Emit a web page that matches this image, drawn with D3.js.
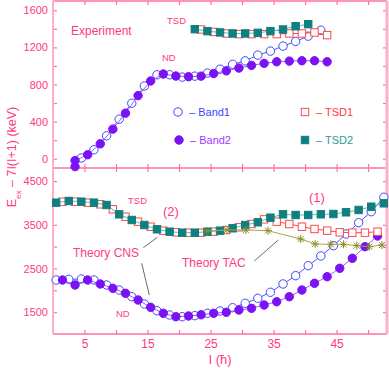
<!DOCTYPE html>
<html>
<head>
<meta charset="utf-8">
<script src="https://cdn.jsdelivr.net/npm/d3@7"></script>
<style>
  body { margin: 0; background: #fff; }
  text { font-family: 'Liberation Sans', Arial, sans-serif; }
</style>
</head>
<body>
<script>
// experiment (top panel)
var band1TopI = [4.5, 6.5, 8.5, 10.5, 12.5, 14.5, 16.5, 18.5, 20.5, 22.5, 24.5, 26.5, 28.5, 30.5, 32.5, 34.5, 36.5, 38.5, 40.5, 42.5]
var band1TopE = [8, 97, 247, 426, 598, 784, 905, 905, 880, 890, 923, 965, 1018, 1055, 1117, 1160, 1214, 1264, 1321, 1385]
var band2TopI = [3.5, 3.5, 5.5, 7.5, 9.5, 11.5, 13.5, 15.5, 17.5, 19.5, 21.5, 23.5, 25.5, 27.5, 29.5, 31.5, 33.5, 35.5, 37.5, 39.5, 41.5, 43.5]
var band2TopE = [-85, -20, 43, 161, 319, 491, 680, 838, 913, 891, 884, 890, 918, 947, 977, 1006, 1028, 1045, 1052, 1056, 1056, 1045]
var tsd1TopI = [23.5, 25.5, 27.5, 29.5, 31.5, 33.5, 35.5, 37.5, 39.5, 41.5, 43.5]
var tsd1TopE = [1393, 1367, 1350, 1343, 1343, 1343, 1343, 1350, 1350, 1361, 1332]
var tsd2TopI = [22.5, 24.5, 26.5, 28.5, 30.5, 32.5, 34.5, 36.5, 38.5, 40.5]
var tsd2TopE = [1396, 1375, 1361, 1350, 1350, 1357, 1375, 1393, 1428, 1450]

// theory (bottom panel)
var band1BotI = [0.5, 2.5, 4.5, 6.5, 8.5, 10.5, 12.5, 14.5, 16.5, 18.5, 20.5, 22.5, 24.5, 26.5, 28.5, 30.5, 32.5, 34.5, 36.5, 38.5, 40.5, 42.5, 44.5, 46.5, 48.5, 50.5, 52.5]
var band1BotE = [2236, 2252, 2259, 2236, 2122, 2007, 1854, 1687, 1533, 1435, 1396, 1420, 1474, 1527, 1602, 1703, 1817, 1955, 2145, 2335, 2564, 2786, 3022, 3289, 3548, 3800, 4130]
var band2BotI = [1.5, 3.5, 5.5, 7.5, 9.5, 11.5, 13.5, 15.5, 17.5, 19.5, 21.5, 23.5, 25.5, 27.5, 29.5, 31.5, 33.5, 35.5, 37.5, 39.5, 41.5, 43.5, 45.5, 47.5, 49.5, 51.5]
var band2BotE = [2236, 2122, 2236, 2145, 2046, 1932, 1778, 1611, 1474, 1396, 1412, 1440, 1474, 1497, 1549, 1588, 1664, 1739, 1854, 2007, 2161, 2312, 2504, 2733, 2999, 3244]
var tsd1BotI = [1.5, 3.5, 5.5, 7.5, 9.5, 11.5, 13.5, 15.5, 17.5, 19.5, 21.5, 23.5, 25.5, 27.5, 29.5, 31.5, 33.5, 35.5, 37.5, 39.5, 41.5, 43.5, 45.5, 47.5, 49.5, 51.5]
var tsd1BotE = [4029, 4029, 4006, 3969, 3855, 3685, 3571, 3456, 3365, 3328, 3319, 3319, 3342, 3381, 3443, 3518, 3625, 3571, 3518, 3456, 3404, 3365, 3328, 3319, 3319, 3342]
var tsd2BotI = [0.5, 2.5, 4.5, 6.5, 8.5, 10.5, 12.5, 14.5, 16.5, 18.5, 20.5, 22.5, 24.5, 26.5, 28.5, 30.5, 32.5, 34.5, 36.5, 38.5, 40.5, 42.5, 44.5, 46.5, 48.5, 50.5, 52.5]
var tsd2BotE = [4006, 4045, 4029, 4006, 3953, 3740, 3610, 3495, 3397, 3342, 3319, 3319, 3342, 3365, 3420, 3495, 3557, 3663, 3740, 3724, 3724, 3740, 3747, 3786, 3839, 3914, 3992]
var tacI = [24.4, 27.6, 30.6, 34.1, 39.3, 41.6, 44.1, 46.1, 48.2, 50.2, 52.2]
var tacE = [3358, 3381, 3381, 3365, 3175, 3060, 3053, 3053, 3022, 2999, 3037]

var topTicks = [0, 200, 400, 600, 800, 1000, 1200, 1400, 1600]
var topLabels = [0, 400, 800, 1200, 1600]
var botTicks = [1500, 2000, 2500, 3000, 3500, 4000, 4500]
var botLabels = [1500, 2500, 3500, 4500]
var xTicks = [5, 10, 15, 20, 25, 30, 35, 40, 45, 50]
var xLabels = [5, 15, 25, 35, 45]

var width = 389,
  height = 368,
  x0 = 53, x1 = 387,
  yT = 1, yM = 168, yB = 334

var pink = '#ff3b7a'
var axisPink = '#ff73a2'

var svg = d3.select('body').append('svg')
  .attr('width', width)
  .attr('height', height)
  .style('background', '#fff')

var x = d3.scaleLinear().domain([0, 53]).range([x0, x1])
var yTop = d3.scaleLinear().domain([-100, 1700]).range([yM, yT])
var yBot = d3.scaleLinear().domain([1000, 4800]).range([yB, yM])

function zip(a, b) { return a.map(function (v, i) { return [v, b[i]] }) }

function styleAxis(g) {
  g.select('.domain').remove()
  g.selectAll('line').attr('stroke', axisPink).attr('stroke-width', 1.2)
  g.selectAll('text').attr('fill', pink).style('font-size', '11px')
}

function fmt(labels) {
  return function (d) { return labels.indexOf(d) >= 0 ? d : '' }
}

// y axes
svg.append('g').attr('transform', 'translate(' + x0 + ',0)')
  .call(d3.axisLeft(yTop).tickValues(topTicks).tickSize(-4).tickPadding(5).tickFormat(fmt(topLabels)))
  .call(styleAxis)
svg.append('g').attr('transform', 'translate(' + x0 + ',0)')
  .call(d3.axisLeft(yBot).tickValues(botTicks).tickSize(-4).tickPadding(5).tickFormat(fmt(botLabels)))
  .call(styleAxis)
svg.append('g').attr('transform', 'translate(' + x1 + ',0)')
  .call(d3.axisRight(yTop).tickValues(topTicks).tickSize(-4).tickFormat(''))
  .call(styleAxis)
svg.append('g').attr('transform', 'translate(' + x1 + ',0)')
  .call(d3.axisRight(yBot).tickValues(botTicks).tickSize(-4).tickFormat(''))
  .call(styleAxis)

// x axes
svg.append('g').attr('transform', 'translate(0,' + yB + ')')
  .call(d3.axisBottom(x).tickValues(xTicks).tickSize(-4).tickPadding(5).tickFormat(fmt(xLabels)))
  .call(styleAxis)
svg.selectAll('g').filter(function () { return this.getAttribute('transform') === 'translate(0,' + yB + ')' })
  .selectAll('text').style('font-size', '12px')
svg.append('g').attr('transform', 'translate(0,' + yM + ')')
  .call(d3.axisBottom(x).tickValues(xTicks).tickSize(4).tickFormat(''))
  .call(styleAxis)
svg.append('g').attr('transform', 'translate(0,' + yM + ')')
  .call(d3.axisTop(x).tickValues(xTicks).tickSize(4).tickFormat(''))
  .call(styleAxis)
svg.append('g').attr('transform', 'translate(0,' + yT + ')')
  .call(d3.axisTop(x).tickValues(xTicks).tickSize(-4).tickFormat(''))
  .call(styleAxis)

// frame
;[yT, yM, yB].forEach(function (yy) {
  svg.append('line').attr('x1', x0).attr('x2', x1).attr('y1', yy).attr('y2', yy)
    .attr('stroke', axisPink).attr('stroke-width', 1.5)
})
svg.append('line').attr('x1', x0).attr('x2', x0).attr('y1', yT).attr('y2', yB)
  .attr('stroke', '#ffadc8').attr('stroke-width', 2)
svg.append('line').attr('x1', x1).attr('x2', x1).attr('y1', yT).attr('y2', yB)
  .attr('stroke', '#ffadc8').attr('stroke-width', 3)

// series
function drawSeries(ys, pts, o) {
  var line = d3.line().x(function (d) { return x(d[0]) }).y(function (d) { return ys(d[1]) })
  svg.append('path').datum(pts)
    .attr('d', line)
    .attr('fill', 'none')
    .attr('stroke', o.line)
    .attr('stroke-width', 1)
  var g = svg.append('g')
  if (o.shape === 'circle') {
    g.selectAll('circle').data(pts).enter().append('circle')
      .attr('cx', function (d) { return x(d[0]) })
      .attr('cy', function (d) { return ys(d[1]) })
      .attr('r', 4.2)
      .attr('fill', o.fill)
      .attr('stroke', o.stroke)
      .attr('stroke-width', 1)
  } else if (o.shape === 'square') {
    g.selectAll('rect').data(pts).enter().append('rect')
      .attr('x', function (d) { return x(d[0]) - 3.7 })
      .attr('y', function (d) { return ys(d[1]) - 3.7 })
      .attr('width', 7.4)
      .attr('height', 7.4)
      .attr('fill', o.fill)
      .attr('stroke', o.stroke)
      .attr('stroke-width', 1)
  } else {
    g.selectAll('path').data(pts).enter().append('path')
      .attr('transform', function (d) { return 'translate(' + x(d[0]) + ',' + ys(d[1]) + ')' })
      .attr('d', 'M-4,0H4M0,-4V4M-3,-3L3,3M-3,3L3,-3')
      .attr('stroke', o.stroke)
      .attr('stroke-width', 1)
  }
}

var sBand1 = { shape: 'circle', fill: '#fff', stroke: '#3d46ff', line: '#4a55ff' }
var sBand2 = { shape: 'circle', fill: '#7a12f5', stroke: '#7a12f5', line: '#9a5cff' }
var sTsd1 = { shape: 'square', fill: '#fff', stroke: '#ff4848', line: '#ff4848' }
var sTsd2 = { shape: 'square', fill: '#0f7f7f', stroke: '#0f7f7f', line: '#5bbcbc' }
var sTac = { shape: 'star', stroke: '#8d8d2a', line: '#a8a844' }

drawSeries(yTop, zip(band1TopI, band1TopE), sBand1)
drawSeries(yTop, zip(band2TopI, band2TopE), sBand2)
drawSeries(yTop, zip(tsd1TopI, tsd1TopE), sTsd1)
drawSeries(yTop, zip(tsd2TopI, tsd2TopE), sTsd2)

drawSeries(yBot, zip(band1BotI, band1BotE), sBand1)
drawSeries(yBot, zip(band2BotI, band2BotE), sBand2)
drawSeries(yBot, zip(tsd1BotI, tsd1BotE), sTsd1)
drawSeries(yBot, zip(tsd2BotI, tsd2BotE), sTsd2)
drawSeries(yBot, zip(tacI, tacE), sTac)

// legend
var legend = [
  { name: 'Band1', s: sBand1, col: '#3d46ff', lx: 178, ly: 112 },
  { name: 'Band2', s: sBand2, col: '#9a3cff', lx: 179, ly: 140 },
  { name: 'TSD1', s: sTsd1, col: '#ff3a3a', lx: 305, ly: 112 },
  { name: 'TSD2', s: sTsd2, col: '#2f9a9a', lx: 305, ly: 140 }
]
legend.forEach(function (l) {
  if (l.s.shape === 'circle') {
    svg.append('circle').attr('cx', l.lx).attr('cy', l.ly).attr('r', 4.2)
      .attr('fill', l.s.fill).attr('stroke', l.s.stroke)
  } else {
    svg.append('rect').attr('x', l.lx - 3.7).attr('y', l.ly - 3.7).attr('width', 7.4).attr('height', 7.4)
      .attr('fill', l.s.fill).attr('stroke', l.s.stroke)
  }
  svg.append('text').attr('x', l.lx + 11).attr('y', l.ly + 4)
    .attr('fill', l.col).style('font-size', '11px')
    .text('\u2013 ' + l.name)
})

// annotations
function label(t, lx, ly, size) {
  svg.append('text').attr('x', lx).attr('y', ly).attr('fill', pink)
    .style('font-size', size + 'px').text(t)
}
label('Experiment', 71, 35, 12)
label('TSD', 167, 24, 9.5)
label('ND', 162, 61, 9.5)
label('TSD', 128, 204, 9.5)
label('(2)', 163, 216, 13)
label('(1)', 309, 202, 13)
label('ND', 116, 317, 9.5)
label('Theory CNS', 73, 257, 12)
label('Theory TAC', 182, 267, 12)

;[[143.3, 247.7, 157.3, 237.3], [141.7, 263.3, 149.3, 295], [254.3, 261, 278.3, 240]].forEach(function (p) {
  svg.append('line').attr('x1', p[0]).attr('y1', p[1]).attr('x2', p[2]).attr('y2', p[3])
    .attr('stroke', '#444').attr('stroke-width', 0.8)
})

// axis titles
svg.append('text')
  .attr('transform', 'translate(16,157) rotate(-90)')
  .attr('text-anchor', 'middle')
  .attr('fill', pink)
  .style('font-size', '12.5px')
  .html('E<tspan baseline-shift="sub" font-size="8px">ex</tspan> \u2013 7I(I+1) (keV)')

svg.append('text')
  .attr('x', 220).attr('y', 364)
  .attr('text-anchor', 'middle')
  .attr('fill', pink)
  .style('font-size', '13px')
  .text('I (\u0127)')
</script>
</body>
</html>
